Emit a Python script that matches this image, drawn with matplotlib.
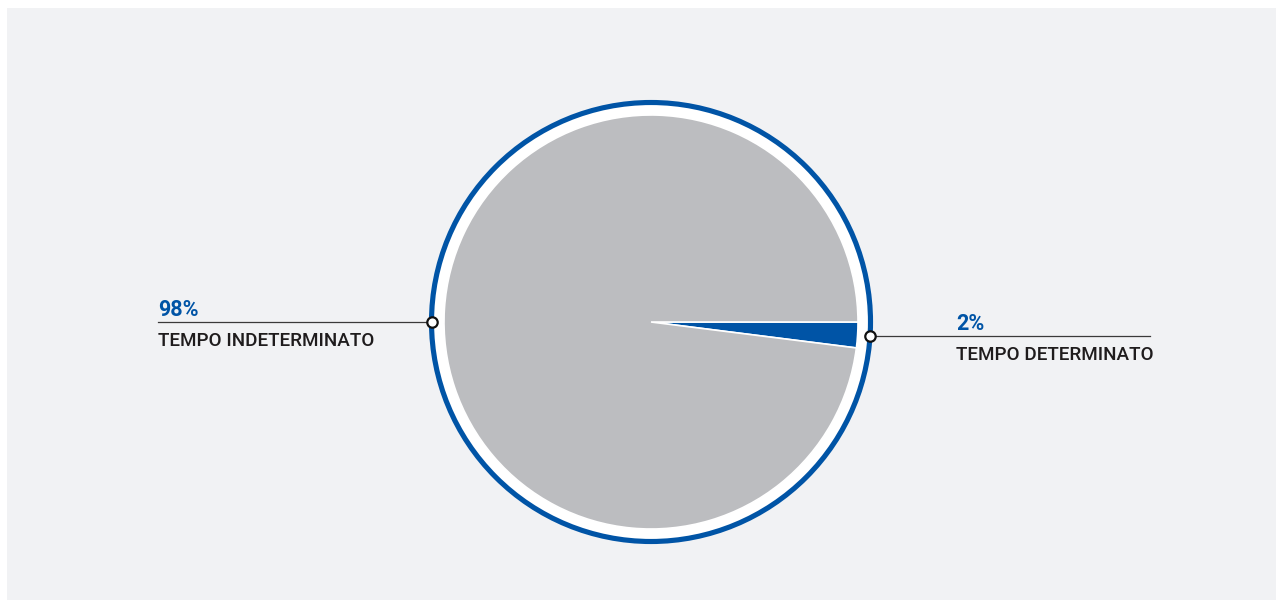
import matplotlib
matplotlib.use("Agg")
import matplotlib.pyplot as plt
from matplotlib.patches import Circle, Rectangle

categories = ["TEMPO INDETERMINATO", "TEMPO DETERMINATO"]
values = [98, 2]
pct_labels = ["98%", "2%"]

W, H = 1283, 608
BLUE = "#0054a6"
GRAY = "#bcbdc0"
BG = "#f1f2f4"
TXT = "#1f1c1d"

fig = plt.figure(figsize=(W / 100, H / 100), dpi=100)
fig.patch.set_facecolor("white")
ax = fig.add_axes([0, 0, 1, 1])

def Y(y):
    return H - y

cx, cy = 651, Y(322)
ax.pie(values[::-1], colors=[BLUE, GRAY], startangle=0, counterclock=False,
       radius=207, center=(cx, cy), frame=True,
       wedgeprops=dict(edgecolor="white", linewidth=1.2, zorder=2))
ax.set_xlim(0, W)
ax.set_ylim(0, H)
ax.set_aspect("auto")
ax.axis("off")

ax.add_patch(Rectangle((7, Y(600)), 1269, 592, facecolor=BG, edgecolor="none", zorder=0))
ax.add_patch(Circle((cx, cy), 219.5, facecolor="white", edgecolor=BLUE, lw=3.7, zorder=1))

fam = ["Roboto", "DejaVu Sans"]

# left label (98%)
ax.plot([158, 432], [Y(322), Y(322)], color="#3a3a3a", lw=0.9, zorder=3)
ax.plot([432], [Y(322)], marker="o", ms=7.5, mfc="white", mec="#111111", mew=1.6, zorder=4)
ax.text(158, Y(316.5), pct_labels[0], color=BLUE, fontsize=15.5, fontweight="bold",
        family=fam, va="baseline", ha="left")
ax.text(158, Y(346), categories[0], color=TXT, fontsize=13.6, fontweight="medium",
        family=fam, va="baseline", ha="left")

# right label (2%)
ax.plot([870, 1150], [Y(336), Y(336)], color="#3a3a3a", lw=0.9, zorder=3)
ax.plot([870], [Y(336)], marker="o", ms=7.5, mfc="white", mec="#111111", mew=1.6, zorder=4)
ax.text(956, Y(330), pct_labels[1], color=BLUE, fontsize=15.5, fontweight="bold",
        family=fam, va="baseline", ha="left")
ax.text(956, Y(360), categories[1], color=TXT, fontsize=13.6, fontweight="medium",
        family=fam, va="baseline", ha="left")

fig.savefig("out.png", dpi=100, facecolor="white")
